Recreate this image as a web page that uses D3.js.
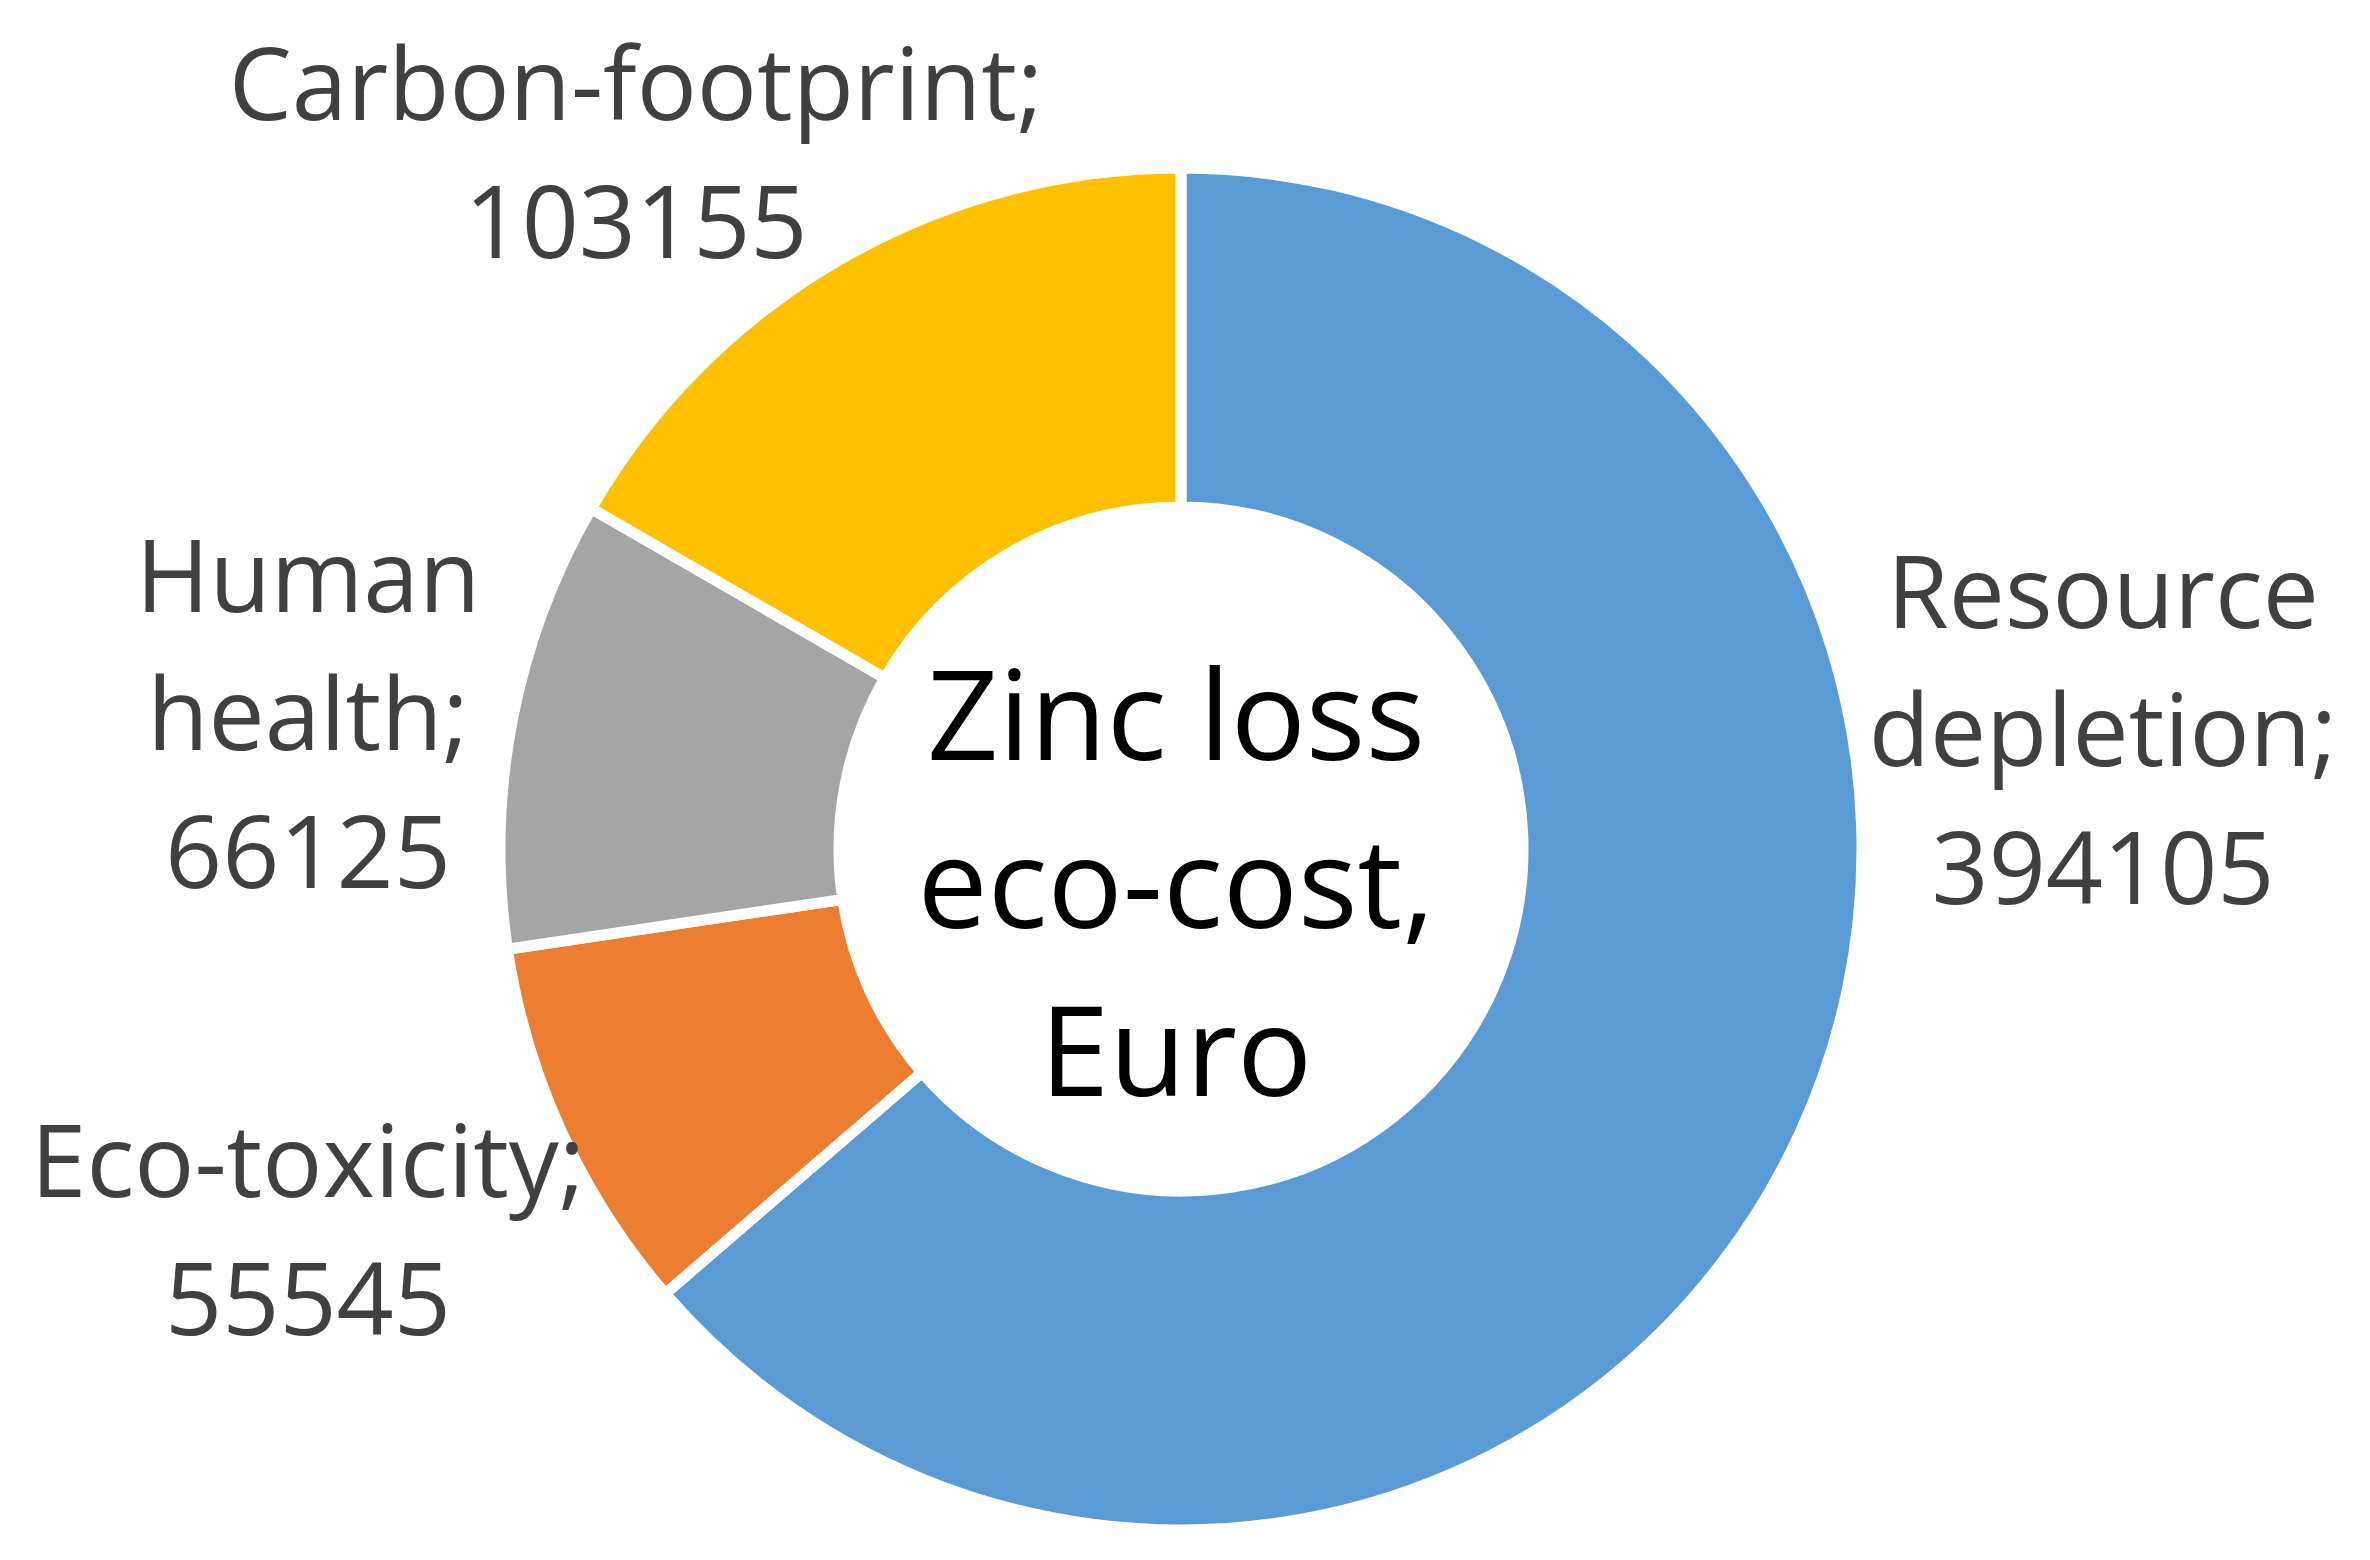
<!DOCTYPE html>
<html>
<head>
<meta charset="utf-8">
<script src="https://cdn.jsdelivr.net/npm/d3@7"></script>
<style>
  html, body { margin: 0; padding: 0; background: #fff; }
  svg text { font-family: "Open Sans", "Noto Sans", sans-serif; }
</style>
</head>
<body>
<div id="chart"></div>
<script>
// data
const categories = ["Resource depletion", "Eco-toxicity", "Human health", "Carbon-footprint"];
const values = [394105, 55545, 66125, 103155];
const colors = ["#5B9BD5", "#ED7D31", "#A5A5A5", "#FFC000"];
const centerTitle = ["Zinc loss", "eco-cost,", "Euro"];
// how each label wraps (words of name + value)
const labelLines = [
  ["Resource", "depletion;"],
  ["Eco-toxicity;"],
  ["Human", "health;"],
  ["Carbon-footprint;"]
];

// layout
const W = 2370, H = 1560;
const cx = 1181, cy = 849;
const outerR = 681, innerR = 342;
// label anchors: center x, first baseline
const labelAnchor = [
  { x: 2103, y: 628 },
  { x: 308, y: 1197 },
  { x: 308, y: 612 },
  { x: 636, y: 120 }
];
const lineGap = 138;

const svg = d3.select("#chart").append("svg")
  .attr("width", W)
  .attr("height", H);

const g = svg.append("g").attr("transform", `translate(${cx},${cy})`);

const pie = d3.pie().sort(null).value(d => d.value);
const arc = d3.arc().innerRadius(innerR).outerRadius(outerR);

const rows = categories.map((c, i) => ({ name: c, value: values[i], color: colors[i], i: i }));

g.selectAll("path.slice")
  .data(pie(rows))
  .enter()
  .append("path")
  .attr("class", "slice")
  .attr("d", arc)
  .attr("fill", d => d.data.color)
  .attr("stroke", "#fff")
  .attr("stroke-width", 11)
  .attr("stroke-linejoin", "miter");

// data labels
rows.forEach((r, i) => {
  const lines = labelLines[i].concat([String(r.value)]);
  const t = svg.append("text")
    .attr("text-anchor", "middle")
    .style("font-size", "100px")
    .style("fill", "#404040");
  lines.forEach((ln, k) => {
    t.append("tspan")
      .attr("x", labelAnchor[i].x)
      .attr("y", labelAnchor[i].y + k * lineGap)
      .text(ln);
  });
});

// centre title
const ct = svg.append("text")
  .attr("text-anchor", "middle")
  .style("font-size", "125px")
  .style("fill", "#000");
centerTitle.forEach((ln, k) => {
  ct.append("tspan")
    .attr("x", 1176)
    .attr("y", 760 + k * 168)
    .text(ln);
});
</script>
</body>
</html>
